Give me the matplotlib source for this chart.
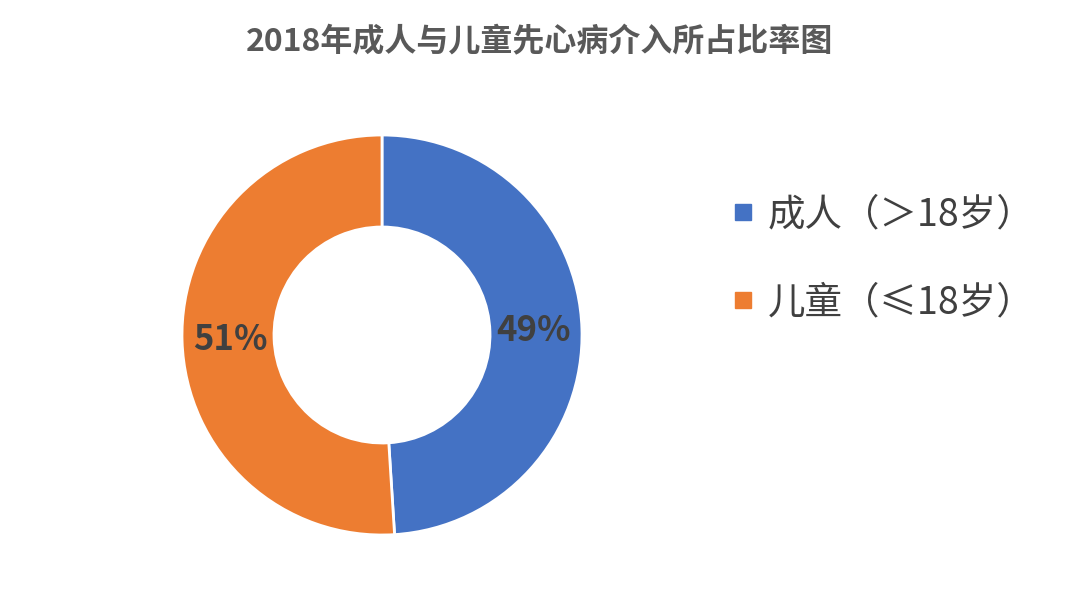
import matplotlib
matplotlib.use("Agg")
import matplotlib.pyplot as plt
from matplotlib.lines import Line2D

plt.rcParams["font.family"] = ["Noto Sans CJK SC", "DejaVu Sans"]

labels = ["成人（＞18岁）", "儿童（≤18岁）"]
shares = [49, 51]
colors = ["#4472C4", "#ED7D31"]
title = "2018年成人与儿童先心病介入所占比率图"

fig = plt.figure(figsize=(10.8, 5.99), dpi=100)
ax = fig.add_axes([182 / 1080, 64 / 599, 400 / 1080, 400 / 599])
wedges, _, autotexts = ax.pie(
    shares, colors=colors, startangle=90, counterclock=False,
    autopct="%d%%", pctdistance=0.76,
    wedgeprops=dict(width=0.46, edgecolor="white", linewidth=2),
    textprops=dict(fontsize=25, color="#404040", fontweight="bold"),
)
ax.set_xlim(-1, 1)
ax.set_ylim(-1, 1)
ax.set_aspect("equal")

fig.text(0.5, 0.93, title, ha="center", va="center", fontsize=23,
         color="#595959", fontweight="bold")

handles = [Line2D([], [], marker="s", linestyle="", markersize=12,
                  markerfacecolor=c, markeredgecolor=c) for c in colors]
fig.legend(handles, labels, loc="upper left", bbox_to_anchor=(0.645, 0.73),
           frameon=False, fontsize=27, labelcolor="#404040",
           handletextpad=0.3, labelspacing=1.3, handlelength=0.7)

fig.savefig("out.png", dpi=100)
